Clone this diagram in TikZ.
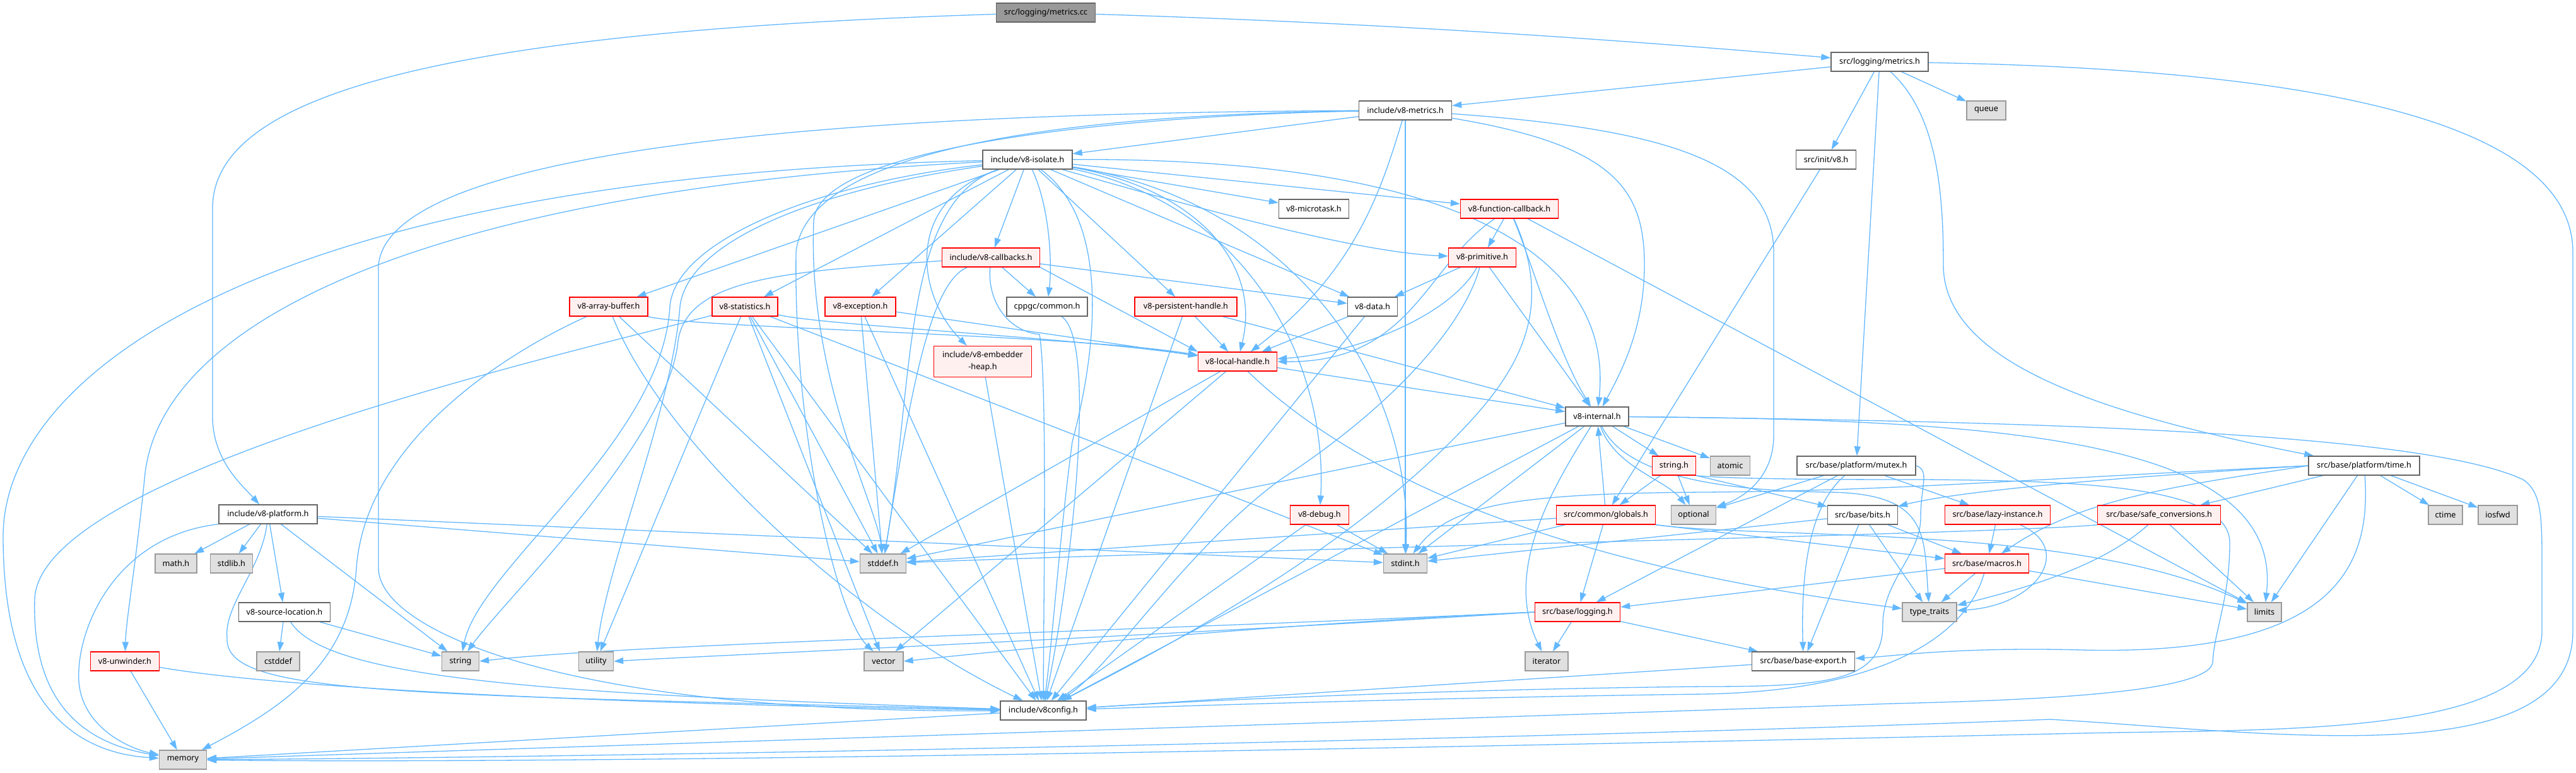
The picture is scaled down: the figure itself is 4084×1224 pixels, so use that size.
\documentclass[tikz,border=0pt]{standalone}
\usepackage{fontspec}
\setmainfont{Noto Sans}
\usetikzlibrary{arrows.meta}
\definecolor{eblue}{HTML}{63B8FF}
\definecolor{redfill}{HTML}{FFF0F0}
\definecolor{grayfill}{HTML}{E0E0E0}
\definecolor{grayline}{HTML}{999999}
\definecolor{darkline}{HTML}{666666}
\definecolor{rootfill}{HTML}{999999}
\newcommand{\nf}{\fontsize{12.7pt}{15pt}\selectfont}
\pgfdeclarelayer{bg}
\pgfdeclarelayer{edges}
\pgfsetlayers{bg,edges,main}
\begin{document}
\begin{tikzpicture}[x=1pt,y=-1pt,
  bx/.style={rectangle, inner sep=0pt, minimum height=30, line width=1.3pt, font=\nf, text=black},
  nw/.style={bx, draw=darkline, fill=white},
  nr/.style={bx, draw=red, fill=redfill},
  ng/.style={bx, draw=grayline, fill=grayfill},
  nroot/.style={bx, draw=darkline, fill=rootfill},
  ed/.style={draw=eblue, line width=1.3pt, -{Triangle[length=15pt,width=10pt]}}]
\begin{pgfonlayer}{bg}
\fill[white] (0,0) rectangle (4084,1224);
\end{pgfonlayer}
\useasboundingbox (0,0) rectangle (4084,1224);

% ---------- nodes ----------
\node[nroot,minimum width=157] (mcc) at (1658,20) {src/logging/metrics.cc};
\node[nw,minimum width=154] (mh) at (2980,98) {src/logging/metrics.h};
\node[nw,minimum width=147] (v8metrics) at (2228,175) {include/v8-metrics.h};
\node[ng,minimum width=62] (queue) at (3149,175) {queue};
\node[nw,minimum width=142] (isolate) at (1629,253) {include/v8-isolate.h};
\node[nw,minimum width=95] (initv8) at (2895,253) {src/init/v8.h};
\node[nw,minimum width=111] (microtask) at (2083,331) {v8-microtask.h};
\node[nr,minimum width=155] (funccb) at (2393,331) {v8-function-callback.h};
\node[nr,minimum width=155] (callbacks) at (1571,408) {include/v8-callbacks.h};
\node[nr,minimum width=107] (primitive) at (2350,408) {v8-primitive.h};
\node[nr,minimum width=124] (arraybuf) at (965,486) {v8-array-buffer.h};
\node[nr,minimum width=104] (statistics) at (1181,486) {v8-statistics.h};
\node[nr,minimum width=112] (exception) at (1364,486) {v8-exception.h};
\node[nw,minimum width=128] (cppgc) at (1660,486) {cppgc/common.h};
\node[nr,minimum width=162] (persistent) at (1880,486) {v8-persistent-handle.h};
\node[nw,minimum width=79] (data) at (2176,486) {v8-data.h};
\node[nr,minimum width=155,minimum height=49,align=center,font=\fontsize{12.7pt}{19pt}\selectfont] (embedder) at (1558,573) {include/v8-embedder\\-heap.h};
\node[nr,minimum width=125] (localh) at (1962,573) {v8-local-handle.h};
\node[nw,minimum width=100] (internal) at (2532,660) {v8-internal.h};
\node[nr,minimum width=69] (stringh) at (2654,738) {string.h};
\node[ng,minimum width=63] (atomic) at (2743,738) {atomic};
\node[nw,minimum width=188] (mutex) at (2943,738) {src/base/platform/mutex.h};
\node[nw,minimum width=176] (time) at (3748,738) {src/base/platform/time.h};
\node[nw,minimum width=156] (platform) at (425,815) {include/v8-platform.h};
\node[ng,minimum width=66] (mathh) at (279,893) {math.h};
\node[ng,minimum width=67] (stdlibh) at (367,893) {stdlib.h};
\node[nr,minimum width=93] (debug) at (2092,816) {v8-debug.h};
\node[nr,minimum width=157] (globals) at (2546,816) {src/common/globals.h};
\node[ng,minimum width=71] (optional) at (2685,816) {optional};
\node[nw,minimum width=111] (bits) at (2953,816) {src/base/bits.h};
\node[nr,minimum width=167] (lazy) at (3167,816) {src/base/lazy-instance.h};
\node[nr,minimum width=195] (safeconv) at (3423,816) {src/base/safe\_conversions.h};
\node[ng,minimum width=54] (ctime) at (3877,816) {ctime};
\node[ng,minimum width=62] (iosfwd) at (3960,816) {iosfwd};
\node[ng,minimum width=73] (stddef) at (1400,893) {stddef.h};
\node[ng,minimum width=69] (stdint) at (2228,893) {stdint.h};
\node[nr,minimum width=133] (macros) at (3150,893) {src/base/macros.h};
\node[nw,minimum width=145] (srcloc) at (451,970) {v8-source-location.h};
\node[nr,minimum width=135] (logging) at (2501,970) {src/base/logging.h};
\node[ng,minimum width=86] (typetraits) at (3059,970) {type\_traits};
\node[ng,minimum width=54] (limits) at (3590,970) {limits};
\node[nr,minimum width=109] (unwinder) at (198,1048) {v8-unwinder.h};
\node[ng,minimum width=68] (cstddef) at (441,1048) {cstddef};
\node[ng,minimum width=59] (stringn) at (730,1048) {string};
\node[ng,minimum width=55] (utility) at (945,1048) {utility};
\node[ng,minimum width=62] (vector) at (1401,1048) {vector};
\node[ng,minimum width=68] (iterator) at (2452,1048) {iterator};
\node[nw,minimum width=163] (baseexport) at (2859,1048) {src/base/base-export.h};
\node[nw,minimum width=136] (v8config) at (1654,1126) {include/v8config.h};
\node[ng,minimum width=75] (memory) at (290,1204) {memory};

% ---------- edges ----------
\begin{pgfonlayer}{edges}
% metrics.cc
\draw[ed] (mcc) .. controls (2300,40) and (2700,75) .. (mh);
\draw[ed] (mcc) .. controls (700,50) and (337,150) .. (337,330) -- (337,660) .. controls (337,730) and (385,770) .. (platform);
% metrics.h
\draw[ed] (mh) -- (v8metrics);
\draw[ed] (mh) -- (queue);
\draw[ed] (mh) -- (initv8);
\draw[ed] (mh) -- (mutex);
\draw[ed] (mh) .. controls (3070,180) and (3081,300) .. (3081,420) .. controls (3081,580) and (3350,660) .. (time);
\draw[ed] (mh) .. controls (3700,110) and (4079,200) .. (4079,400) -- (4079,1000) .. controls (4079,1230) and (3600,1160) .. (3250,1140) .. controls (2500,1170) and (1000,1200) .. (memory);
% v8-metrics.h
\draw[ed] (v8metrics) -- (isolate);
\draw[ed] (v8metrics) .. controls (2190,300) and (2150,430) .. (localh);
\draw[ed] (v8metrics) .. controls (2560,230) and (2607,300) .. (2607,420) .. controls (2607,520) and (2570,590) .. (internal);
\draw[ed] (v8metrics) -- (stdint);
\draw[ed] (v8metrics) .. controls (2650,205) and (2812,260) .. (2812,400) -- (2812,690) .. controls (2812,760) and (2760,790) .. (optional);
\draw[ed] (v8metrics) .. controls (1900,180) and (1300,215) .. (1290,350) .. controls (1280,600) and (1390,800) .. (stddef);
\draw[ed] (v8metrics) .. controls (1800,180) and (1280,215) .. (1262,400) .. controls (1258,700) and (1330,980) .. (vector);
\draw[ed] (v8metrics) .. controls (1500,178) and (620,215) .. (600,420) -- (600,900) .. controls (600,1000) and (900,1130) .. (v8config);
% init/v8.h
\draw[ed] (initv8) -- (globals);
% v8-isolate.h
\draw[ed] (isolate) -- (callbacks);
\draw[ed] (isolate) .. controls (1665,330) and (1668,420) .. (cppgc);
\draw[ed] (isolate) -- (persistent);
\draw[ed] (isolate) .. controls (1900,300) and (2000,420) .. (localh);
\draw[ed] (isolate) -- (exception);
\draw[ed] (isolate) -- (statistics);
\draw[ed] (isolate) -- (arraybuf);
\draw[ed] (isolate) .. controls (1430,320) and (1455,470) .. (embedder);
\draw[ed] (isolate) -- (microtask);
\draw[ed] (isolate) -- (funccb);
\draw[ed] (isolate) .. controls (1900,330) and (2150,400) .. (primitive);
\draw[ed] (isolate) -- (data);
\draw[ed] (isolate) .. controls (2300,250) and (2560,400) .. (internal);
\draw[ed] (isolate) .. controls (2000,330) and (2105,600) .. (debug);
\draw[ed] (isolate) .. controls (400,280) and (5,600) .. (5,850) .. controls (5,1150) and (150,1195) .. (memory);
\draw[ed] (isolate) .. controls (700,300) and (260,500) .. (230,750) .. controls (215,900) and (200,980) .. (unwinder);
\draw[ed] (isolate) .. controls (1430,320) and (1450,600) .. (stddef);
\draw[ed] (isolate) .. controls (2050,320) and (2240,600) .. (stdint);
\draw[ed] (isolate) .. controls (1300,290) and (1070,380) .. (1062,486) .. controls (1050,700) and (760,900) .. (stringn);
\draw[ed] (isolate) .. controls (1300,300) and (1090,380) .. (1078,486) .. controls (1065,650) and (960,900) .. (utility);
\draw[ed] (isolate) .. controls (1760,350) and (1740,550) .. (1700,700) .. controls (1680,850) and (1670,1000) .. (v8config);
% v8-callbacks.h
\draw[ed] (callbacks) -- (cppgc);
\draw[ed] (callbacks) -- (data);
\draw[ed] (callbacks.south east) -- (localh.north west);
\draw[ed] (callbacks) .. controls (1470,450) and (1440,650) .. (stddef);
\draw[ed] (callbacks) .. controls (1250,430) and (1090,440) .. (1075,540) .. controls (1060,700) and (800,950) .. (stringn);
\draw[ed] (callbacks) .. controls (1565,480) and (1600,525) .. (1648,530) .. controls (1660,600) and (1655,900) .. (v8config);
% v8-function-callback.h
\draw[ed] (funccb) -- (primitive);
\draw[ed] (funccb) .. controls (2260,420) and (2240,575) .. (localh.east);
\draw[ed] (funccb) .. controls (2430,420) and (2470,560) .. (internal);
\draw[ed] (funccb) .. controls (2470,500) and (2400,600) .. (2300,700) .. controls (2100,900) and (1800,1050) .. (v8config);
\draw[ed] (funccb) -- (limits);
% v8-primitive.h
\draw[ed] (primitive) -- (data);
\draw[ed] (primitive) -- (internal);
\draw[ed] (primitive) .. controls (2300,500) and (2150,560) .. (localh);
\draw[ed] (primitive) .. controls (2320,520) and (2200,650) .. (2030,760) .. controls (1880,870) and (1760,1060) .. (v8config);
% v8-array-buffer.h
\draw[ed] (arraybuf) .. controls (1100,520) and (1700,530) .. (localh);
\draw[ed] (arraybuf) -- (stddef);
\draw[ed] (arraybuf) .. controls (800,560) and (580,700) .. (565,900) .. controls (555,1050) and (450,1120) .. (memory);
\draw[ed] (arraybuf) .. controls (1050,700) and (1350,980) .. (v8config);
% v8-statistics.h
\draw[ed] (statistics) .. controls (1300,515) and (1700,535) .. (localh);
\draw[ed] (statistics) -- (stddef);
\draw[ed] (statistics) -- (stdint);
\draw[ed] (statistics) .. controls (900,560) and (60,750) .. (55,950) .. controls (50,1130) and (150,1180) .. (memory);
\draw[ed] (statistics) -- (utility);
\draw[ed] (statistics) -- (vector);
\draw[ed] (statistics) -- (v8config);
% v8-exception.h
\draw[ed] (exception) -- (stddef);
\draw[ed] (exception) -- (localh);
\draw[ed] (exception) -- (v8config);
% cppgc/common.h
\draw[ed] (cppgc) .. controls (1740,540) and (1700,900) .. (v8config);
% v8-persistent-handle.h
\draw[ed] (persistent) -- (localh);
\draw[ed] (persistent) -- (internal);
\draw[ed] (persistent) -- (v8config);
% v8-data.h
\draw[ed] (data) -- (localh);
\draw[ed] (data) -- (v8config);
% v8-embedder-heap.h
\draw[ed] (embedder) -- (v8config);
% v8-local-handle.h
\draw[ed] (localh) -- (stddef);
\draw[ed] (localh) -- (vector);
\draw[ed] (localh) -- (internal);
\draw[ed] (localh) .. controls (2250,850) and (2750,930) .. (typetraits);
% v8-internal.h
\draw[ed] (internal) -- (stddef);
\draw[ed] (internal) -- (stdint);
\draw[ed] (internal) -- (stringh);
\draw[ed] (internal) -- (atomic);
\draw[ed] (internal) .. controls (2470,760) and (2380,900) .. (iterator);
\draw[ed] (internal) .. controls (3200,665) and (3620,700) .. (limits);
\draw[ed] (internal) .. controls (3300,668) and (3850,690) .. (4000,760) .. controls (4030,780) and (4030,820) .. (4030,900) -- (4030,1000) .. controls (4030,1170) and (3600,1155) .. (3300,1162) .. controls (2500,1180) and (1000,1212) .. (memory);
\draw[ed] (internal) .. controls (2560,740) and (2640,760) .. (optional);
\draw[ed] (internal) .. controls (2580,760) and (2750,778) .. (2900,780) .. controls (3060,782) and (3050,850) .. (typetraits);
\draw[ed] (internal) -- (v8config);
% string.h
\draw[ed] (stringh) -- (globals);
\draw[ed] (stringh) -- (optional);
\draw[ed] (stringh.south east) -- (bits);
\draw[ed] (stringh.south east) .. controls (2750,760) and (2950,760) .. (3050,760) .. controls (3300,762) and (3535,770) .. (3535,860) .. controls (3535,950) and (3510,1000) .. (3508,1050) .. controls (3500,1100) and (3200,1110) .. (3000,1115) .. controls (2300,1140) and (1000,1180) .. (memory);
% v8-debug.h
\draw[ed] (debug) -- (stdint);
\draw[ed] (debug) -- (v8config);
% v8-unwinder.h
\draw[ed] (unwinder) -- (memory);
\draw[ed] (unwinder) .. controls (500,1100) and (1200,1120) .. (v8config);
% globals.h
\draw[ed] (globals) -- (internal);
\draw[ed] (globals) -- (stddef);
\draw[ed] (globals) -- (stdint);
\draw[ed] (globals) -- (logging);
\draw[ed] (globals.south east) -- (macros);
\draw[ed] (globals.south east) .. controls (2800,855) and (3300,830) .. (limits);
% mutex.h
\draw[ed] (mutex) -- (optional);
\draw[ed] (mutex) -- (logging);
\draw[ed] (mutex) .. controls (2870,800) and (2855,900) .. (baseexport);
\draw[ed] (mutex) -- (lazy);
\draw[ed] (mutex.east) .. controls (3060,745) and (3045,770) .. (3045,820) .. controls (3045,880) and (2985,920) .. (2985,990) .. controls (2985,1080) and (2900,1088) .. (2700,1088) .. controls (2300,1092) and (1900,1110) .. (v8config);
% time.h
\draw[ed] (time) -- (ctime);
\draw[ed] (time) -- (iosfwd);
\draw[ed] (time) -- (limits);
\draw[ed] (time) -- (safeconv);
\draw[ed] (time.west) .. controls (3450,770) and (3300,790) .. (macros);
\draw[ed] (time.west) .. controls (3300,760) and (3100,780) .. (bits);
\draw[ed] (time.west) .. controls (3200,760) and (3000,778) .. (2700,780) .. controls (2400,782) and (2300,800) .. (stdint);
\draw[ed] (time) .. controls (3760,900) and (3700,1040) .. (3300,1030) .. controls (3100,1025) and (3000,1040) .. (baseexport);
% bits.h
\draw[ed] (bits) -- (stdint);
\draw[ed] (bits) -- (baseexport);
\draw[ed] (bits) -- (typetraits);
\draw[ed] (bits) -- (macros);
% lazy-instance.h
\draw[ed] (lazy) -- (macros);
\draw[ed] (lazy) .. controls (3290,870) and (3230,960) .. (typetraits);
% safe_conversions.h
\draw[ed] (safeconv) -- (limits);
\draw[ed] (safeconv) .. controls (3330,900) and (3200,935) .. (typetraits);
\draw[ed] (safeconv.south west) .. controls (3200,845) and (2000,870) .. (stddef);
% macros.h
\draw[ed] (macros) -- (typetraits);
\draw[ed] (macros) -- (limits);
\draw[ed] (macros) -- (logging);
\draw[ed] (macros) .. controls (3120,1000) and (3000,1095) .. (2700,1100) .. controls (2300,1105) and (1900,1118) .. (v8config);
% logging.h
\draw[ed] (logging.west) .. controls (1800,1000) and (1000,1020) .. (stringn.east);
\draw[ed] (logging.west) .. controls (1800,1010) and (1100,1040) .. (utility.east);
\draw[ed] (logging.west) .. controls (2000,990) and (1600,1030) .. (vector.east);
\draw[ed] (logging) -- (iterator);
\draw[ed] (logging) -- (baseexport);
% base-export.h
\draw[ed] (baseexport) -- (v8config);
% v8-platform.h
\draw[ed] (platform) -- (mathh);
\draw[ed] (platform) -- (stdlibh);
\draw[ed] (platform.south west) .. controls (180,850) and (120,1000) .. (125,1080) .. controls (130,1150) and (200,1185) .. (memory);
\draw[ed] (platform) -- (stddef);
\draw[ed] (platform) -- (stdint);
\draw[ed] (platform) -- (stringn);
\draw[ed] (platform) -- (srcloc);
\draw[ed] (platform) .. controls (415,900) and (355,960) .. (360,1010) .. controls (355,1100) and (600,1100) .. (v8config);
% v8-source-location.h
\draw[ed] (srcloc) -- (cstddef);
\draw[ed] (srcloc) -- (stringn);
\draw[ed] (srcloc) .. controls (520,1080) and (900,1100) .. (v8config);
% v8config.h
\draw[ed] (v8config) -- (memory);
\end{pgfonlayer}
\end{tikzpicture}
\end{document}
